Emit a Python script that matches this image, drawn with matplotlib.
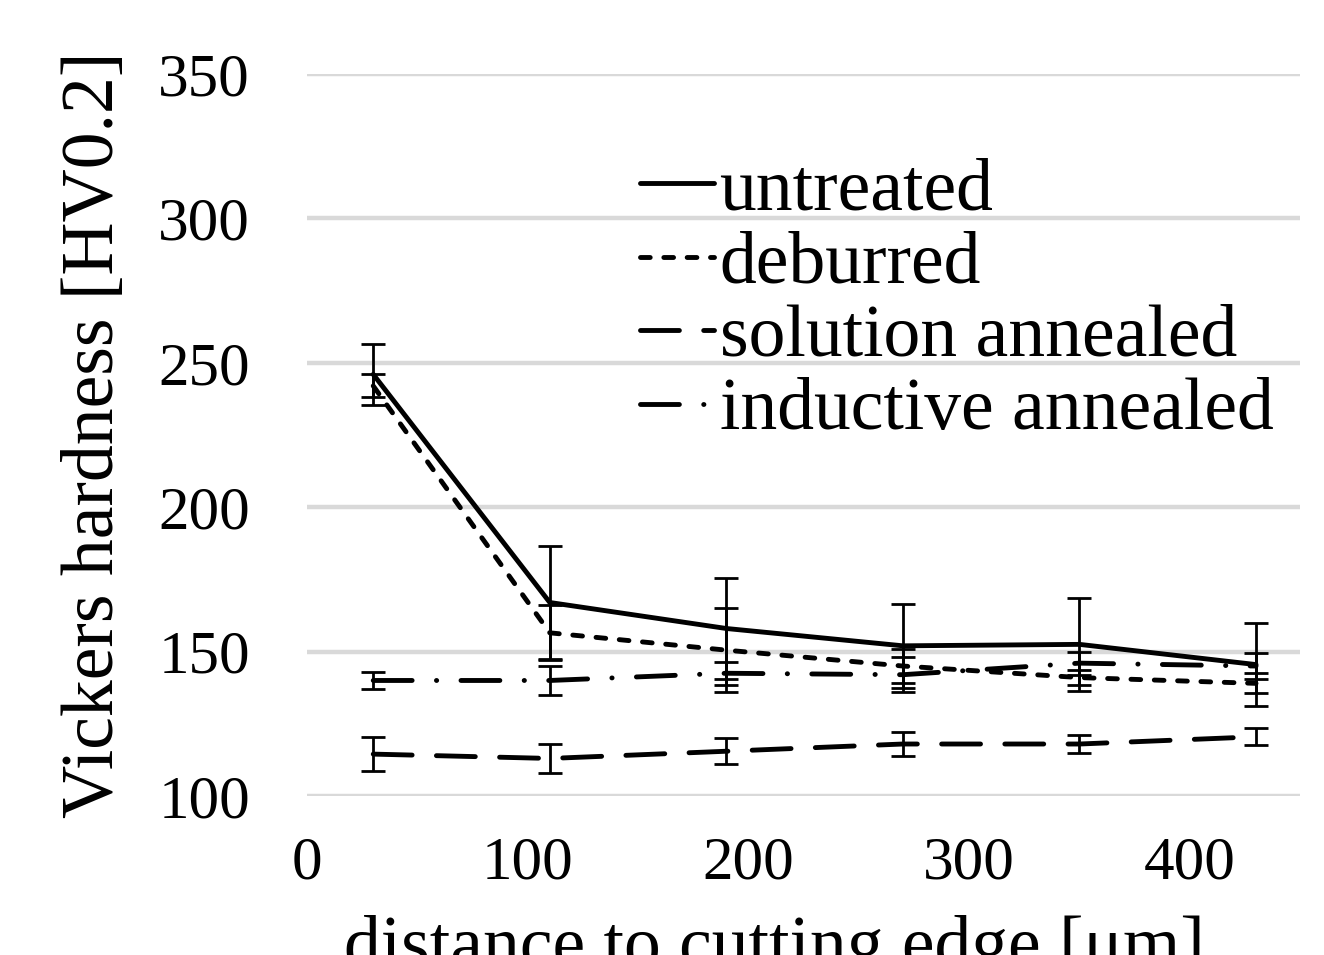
import matplotlib
matplotlib.use("Agg")
import matplotlib.pyplot as plt

# distance to cutting edge [um]
distance = [30, 110, 190, 270, 350, 430]

# mean hardness and scatter per treatment
untreated = [246, 167, 158, 152, 152.5, 145.5]
untreated_err = [10.5, 19.5, 17.5, 14.5, 16, 14.5]
deburred = [242, 156.5, 150.5, 145, 141, 139]
deburred_err = [4, 9.5, 14.5, 6, 2.5, 3.5]
solution = [114.5, 113, 115.5, 118, 118, 120.5]
solution_err = [6, 5, 4.5, 4, 3, 3]
inductive = [140, 140, 142.5, 142, 146, 145]
inductive_err = [3, 5, 4, 6, 4, 4.5]

x_ticks = [0, 100, 200, 300, 400]
y_ticks = [100, 150, 200, 250, 300, 350]

plt.rcParams['font.family'] = ['Liberation Serif', 'DejaVu Serif']

fig = plt.figure(figsize=(13.24, 9.55), dpi=100)
ax = fig.add_axes([0.2319, 0.1665, 0.7501, 0.756])

series = [
    ('untreated', untreated, untreated_err, (None, None)),
    ('deburred', deburred, deburred_err, (0, (2.0, 2.8))),
    ('solution annealed', solution, solution_err, (0, (8, 5))),
    ('inductive annealed', inductive, inductive_err, (0, (8, 5, 0.05, 5))),
]

lw = 3.5
for i, (name, vals, err, dash) in enumerate(series):
    ax.errorbar(distance, vals, yerr=err, fmt='none', ecolor='black',
                elinewidth=2.0, capsize=8.5, capthick=2.0, zorder=3)
    if dash[1] is None:
        ax.plot(distance, vals, color='black', lw=lw, label=name,
                solid_capstyle='round', zorder=5)
    else:
        ax.plot(distance, vals, color='black', lw=lw, label=name,
                linestyle=dash, dash_capstyle='round', zorder=4)

ax.set_xlim(0, 450)
ax.set_ylim(100, 350)
ax.set_xticks(x_ticks)
ax.set_yticks(y_ticks)
ax.tick_params(axis='both', length=0, labelsize=44)
ax.tick_params(axis='y', pad=41)
ax.tick_params(axis='x', pad=29)
ax.grid(axis='y', color='#d9d9d9', lw=3.2)
ax.set_axisbelow(True)
for s in ax.spines.values():
    s.set_visible(False)

ax.set_ylabel('Vickers hardness [HV0.2]', fontsize=53, labelpad=21)
ax.set_xlabel('distance to cutting edge [\u03bcm]', fontsize=53)
ax.xaxis.set_label_coords(0.471, -0.165)

ax.legend(loc='upper left', bbox_to_anchor=(0.4834, 0.835),
          bbox_transform=fig.transFigure, frameon=False, fontsize=53,
          handlelength=1.0, handletextpad=0.08, labelspacing=0.08,
          borderpad=0, borderaxespad=0)

fig.savefig('out.png', dpi=100)
